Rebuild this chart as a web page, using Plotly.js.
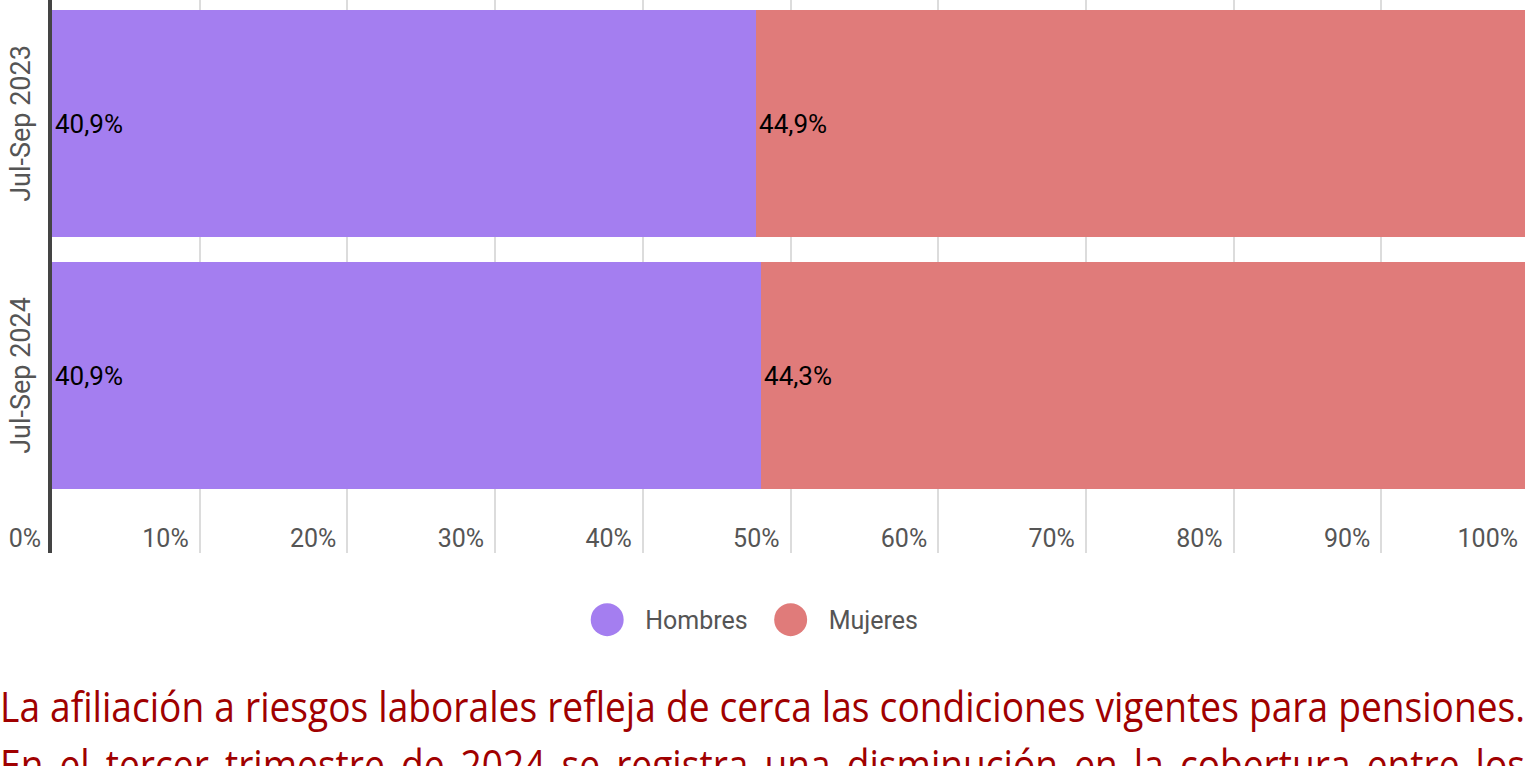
<!DOCTYPE html>
<html>
<head>
<meta charset="utf-8">
<script src="https://cdn.plot.ly/plotly-3.0.1.min.js"></script>
<style>
  html, body { margin: 0; padding: 0; background: #fff; overflow: hidden; width: 1525px; height: 766px; }
  #chart { position: absolute; left: 0; top: 0; width: 1540px; height: 660px; }
  #note { position: absolute; left: 0; top: 677px; width: 1525px; color: #a00000;
          font-family: "Open Sans", "Noto Sans", sans-serif;
          font-size: 42px; line-height: 58px; }
  #note .line { white-space: nowrap; text-align: justify; text-align-last: justify;
                transform-origin: 0 0; }
  #note .line span { white-space: nowrap; }
</style>
</head>
<body>
<div id="chart"></div>
<div id="note">
  <div class="line"><span>La afiliación a riesgos laborales refleja de cerca las condiciones vigentes para pensiones.</span></div>
  <div class="line"><span>En el tercer trimestre de 2024 se registra una disminución en la cobertura entre los</span></div>
</div>
<script>
// Data
var periods = ['Jul-Sep 2023', 'Jul-Sep 2024'];
var hombres = [40.9, 40.9];
var mujeres = [44.9, 44.3];
var seriesNames = ['Hombres', 'Mujeres'];
var colors = ['#a47ef0', '#e07b7a'];
var xTickVals = [0, 10, 20, 30, 40, 50, 60, 70, 80, 90, 100];
var xTickText = ['0%', '10%', '20%', '30%', '40%', '50%', '60%', '70%', '80%', '90%', '100%'];

function fmt(v) { return v.toFixed(1).replace('.', ',') + '%'; }

// narrow the paragraph text so the first line fills the width, second line justified
(function () {
  var lines = document.querySelectorAll('#note .line');
  var first = lines[0].querySelector('span');
  var natural = first.getBoundingClientRect().width;
  var scale = Math.min(1, 1520 / natural);
  lines.forEach(function (ln) {
    ln.style.width = (1525 / scale) + 'px';
    ln.style.transform = 'scaleX(' + scale + ')';
    ln.querySelector('span').style.display = 'inline';
  });
})();

var labelFont = { family: 'Roboto, sans-serif', size: 26, color: '#000' };

var traces = [
  {
    type: 'bar', orientation: 'h', name: seriesNames[0],
    y: periods, x: hombres, text: hombres.map(fmt),
    textposition: 'inside', insidetextanchor: 'start', textfont: labelFont,
    marker: { color: colors[0] }, showlegend: false, hoverinfo: 'none'
  },
  {
    type: 'bar', orientation: 'h', name: seriesNames[1],
    y: periods, x: mujeres, text: mujeres.map(fmt),
    textposition: 'inside', insidetextanchor: 'start', textfont: labelFont,
    marker: { color: colors[1] }, showlegend: false, hoverinfo: 'none'
  },
  // legend entries (circles)
  { type: 'scatter', mode: 'markers', name: seriesNames[0], x: [null], y: [null],
    marker: { color: colors[0], size: 16, symbol: 'circle' }, hoverinfo: 'none' },
  { type: 'scatter', mode: 'markers', name: seriesNames[1], x: [null], y: [null],
    marker: { color: colors[1], size: 16, symbol: 'circle' }, hoverinfo: 'none' }
];

var layout = {
  width: 1540, height: 660,
  margin: { l: 52, r: 11, t: 0, b: 107 },
  paper_bgcolor: '#fff', plot_bgcolor: '#fff',
  barmode: 'stack', barnorm: 'percent', bargap: 0.1,
  font: { family: 'Roboto, sans-serif', size: 25, color: '#555' },
  xaxis: {
    range: [0, 100], tickvals: xTickVals, ticktext: xTickText,
    showgrid: true, gridcolor: '#dcdcdc', gridwidth: 2,
    zeroline: false, showline: false, ticks: '',
    ticklabelposition: 'outside left', ticklabelstandoff: -32, ticklabelshift: -11,
    tickfont: { family: 'Roboto, sans-serif', size: 25, color: '#555' },
    fixedrange: true
  },
  yaxis: {
    type: 'category', categoryorder: 'array', categoryarray: periods,
    range: [1.704, -0.49], showgrid: false, zeroline: false,
    showline: true, linecolor: '#444', linewidth: 4,
    ticks: '', tickangle: -90, ticklabelstandoff: 7, ticklabelshift: -4,
    tickfont: { family: 'Roboto, sans-serif', size: 27, color: '#555' },
    fixedrange: true
  },
  showlegend: true,
  legend: {
    orientation: 'h', traceorder: 'normal',
    x: 0.470, xanchor: 'center', y: -0.121, yanchor: 'middle',
    font: { family: 'Roboto, sans-serif', size: 25, color: '#555' },
    itemwidth: 66, bgcolor: 'rgba(0,0,0,0)'
  }
};

Plotly.newPlot('chart', traces, layout, { displayModeBar: false, staticPlot: true }).then(function (gd) {
  var pts = gd.querySelectorAll('.legend .legendpoints path.scatterpts');
  pts.forEach(function (p) {
    var t = p.getAttribute('transform') || '';
    p.setAttribute('transform', t + ' scale(2.06)');
  });
});
</script>
</body>
</html>
